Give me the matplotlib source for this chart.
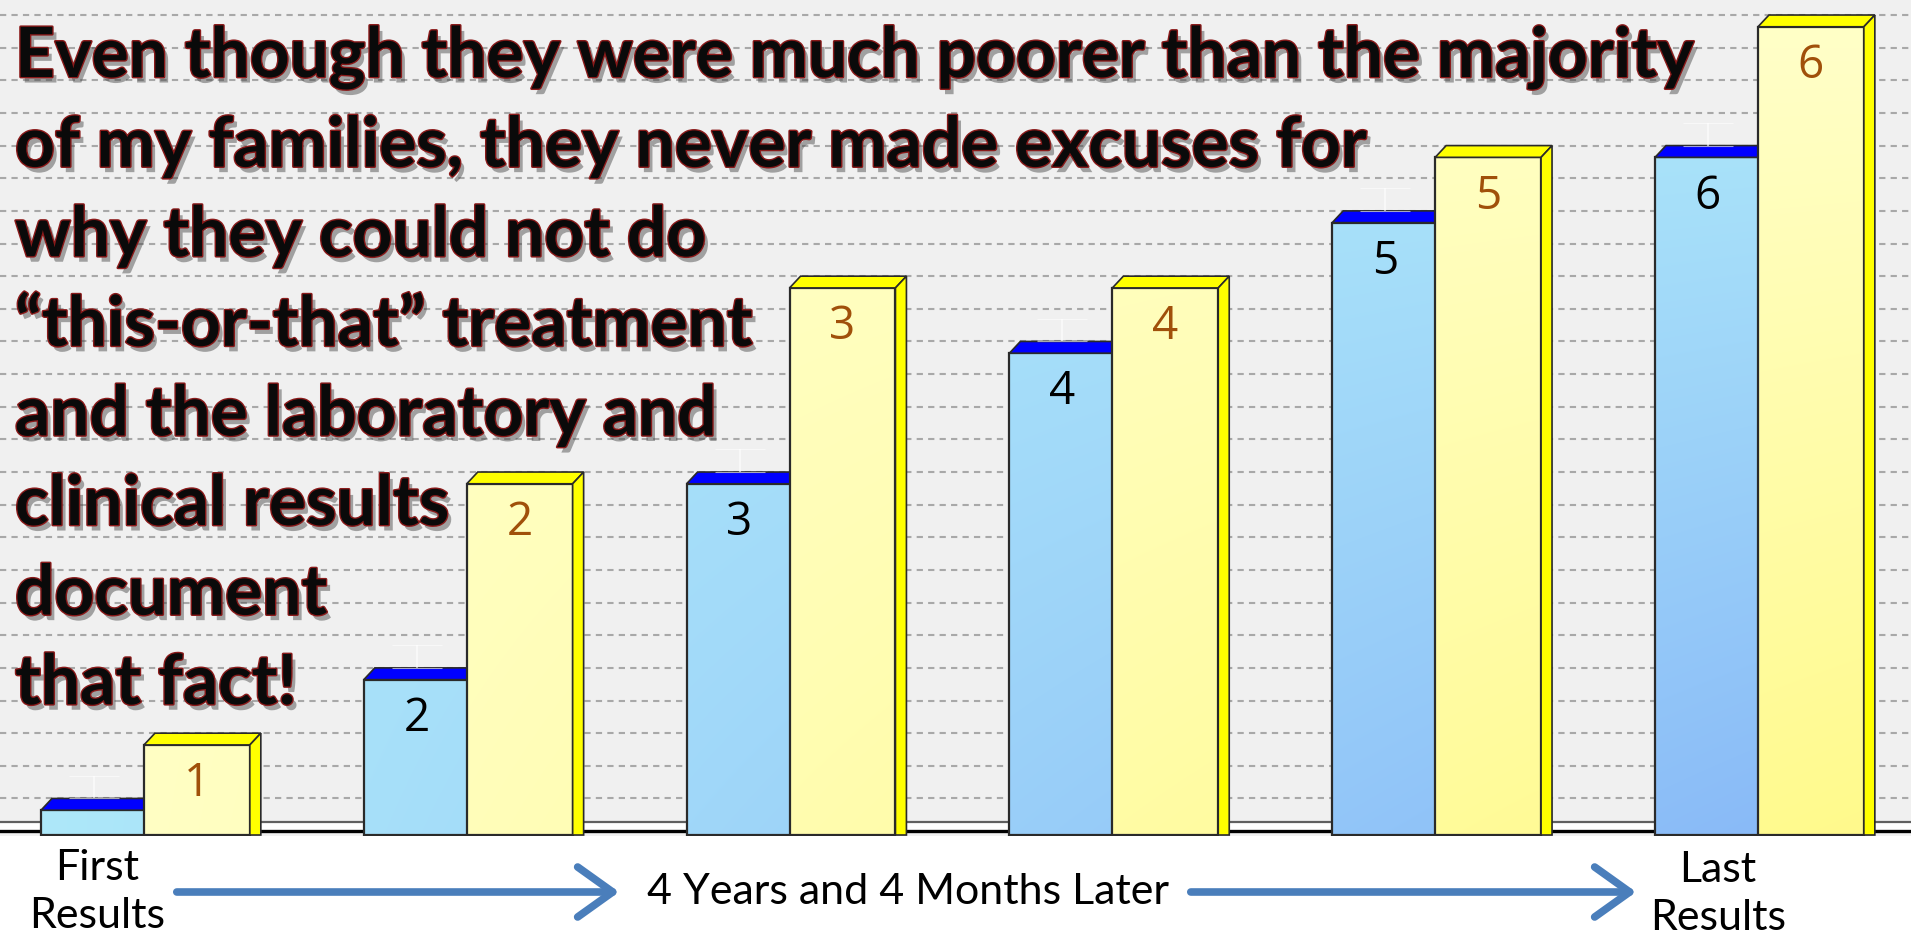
import numpy as np
import matplotlib.pyplot as plt
from matplotlib.patches import Polygon, FancyArrowPatch
import matplotlib.patheffects as pe

# values (one grid step = 1 unit)
groups = ["1", "2", "3", "4", "5", "6"]
first_vals = [1, 5, 11, 15, 19, 21]      # blue series
second_vals = [3, 11, 17, 17, 21, 25]    # yellow series
# the first blue bar is too short to carry its number
first_labels = ["", "2", "3", "4", "5", "6"]
second_labels = ["1", "2", "3", "4", "5", "6"]

message = [
    "Even though they were much poorer than the majority",
    "of my families, they never made excuses for",
    "why they could not do",
    "\u201cthis-or-that\u201d treatment",
    "and the laboratory and",
    "clinical results",
    "document",
    "that fact!",
]
start_label = "First\nResults"
middle_label = "4 Years and 4 Months Later"
end_label = "Last\nResults"

W = 0.328        # bar width
DX = 0.034       # 3d depth, x
DY = 0.36        # 3d depth, y
BASE = -0.12

fig = plt.figure(figsize=(19.11, 9.41), dpi=100)
fig.patch.set_facecolor("white")
ax = fig.add_axes([0, 105 / 941, 1, 836 / 941])
ax.set_facecolor("#F0F0F0")

# back-wall grid
for k in range(1, 26):
    ax.axhline(k, color="#A8A8A8", lw=1.5, ls=(0, (3, 2.5)), zorder=1)

# floor
ax.axhspan(0, 0.28, color="white", zorder=1.5)
ax.axhline(0.28, color="#606060", lw=1.6, zorder=1.6)
ax.axhline(0.0, color="black", lw=2.4, zorder=1.6)

x = np.arange(len(groups))


def gradient_fill(patch, light, dark, z):
    x0, y0 = patch.get_x(), patch.get_y()
    x1, y1 = x0 + patch.get_width(), y0 + patch.get_height()
    xs = np.linspace(x0, x1, 40)
    ys = np.linspace(y1, y0, 200)
    gx, gy = np.meshgrid(xs, ys)
    t = np.clip((gx + 0.3) / 5.6 * (1 - gy / 24), 0, 1)[..., None]
    img = np.array(light)[None, None, :] * (1 - t) + np.array(dark)[None, None, :] * t
    im = ax.imshow(img, extent=(x0, x1, y0, y1), aspect="auto", zorder=z,
                   interpolation="bilinear")
    im.set_clip_path(patch)


def draw_series(lefts, vals, light, dark, cap_col, side, z):
    fronts = [v - DY - BASE for v in vals]
    bars = ax.bar(lefts, fronts, width=W, bottom=BASE, align="edge",
                  facecolor="none", edgecolor="#2A2A2A", lw=1.6, zorder=z + 0.1)
    for b, v in zip(bars, vals):
        gradient_fill(b, light, dark, z)
        l, r, top = b.get_x(), b.get_x() + W, v - DY
        ax.add_patch(Polygon([(l, top), (l + DX, v), (r + DX, v), (r, top)],
                             closed=True, facecolor=cap_col, edgecolor="#2A2A2A",
                             lw=1.2, zorder=z + 0.2))
        if side:
            ax.add_patch(Polygon([(r, top), (r + DX, v), (r + DX, BASE), (r, BASE)],
                                 closed=True, facecolor=cap_col, edgecolor="#2A2A2A",
                                 lw=1.2, zorder=z + 0.2))
    return bars


blue_left = x - 0.319
yellow_left = x.astype(float)

draw_series(blue_left, first_vals, (0.68, 0.91, 0.98), (0.53, 0.72, 0.97), "#0000FF", False, 3)
ax.errorbar(blue_left + W / 2, first_vals, yerr=[[0] * 6, [0.7] * 6], fmt="none",
            ecolor="white", elinewidth=1.5, capsize=18, capthick=0.8, alpha=0.6, zorder=3.3)
draw_series(yellow_left, second_vals, (1.0, 1.0, 0.78), (1.0, 0.98, 0.55), "#FFFF00", True, 4)

for i in range(len(groups)):
    ax.text(blue_left[i] + W / 2, first_vals[i] - DY - 1.2, first_labels[i], ha="center",
            va="center", fontsize=33, color="black", family="Open Sans", zorder=7)
    ax.text(yellow_left[i] + W / 2, second_vals[i] - DY - 1.2, second_labels[i], ha="center",
            va="center", fontsize=33, color="#A0500A", family="Open Sans", zorder=7)

ax.set_xlim(-0.446, 5.474)
ax.set_ylim(-0.15, 25.46)
ax.set_xticks([])
ax.set_yticks([])
for s in ax.spines.values():
    s.set_visible(False)

# overlay in pixel coordinates for the text and arrows
ov = fig.add_axes([0, 0, 1, 1], zorder=10)
ov.set_xlim(0, 1911)
ov.set_ylim(941, 0)
ov.axis("off")

fx = [pe.withSimplePatchShadow(offset=(3, -4), shadow_rgbFace="#404040", alpha=0.45),
      pe.Stroke(linewidth=2.0, foreground="#8A1A1A"), pe.Normal()]
for i, line in enumerate(message):
    ov.text(15, 77 + 89.6 * i, line, ha="left", va="baseline", fontsize=50,
            fontweight="bold", family="Lato", color="#0A0A0A", path_effects=fx)

ov.text(97, 892, start_label, ha="center", va="center", fontsize=31,
        family="Lato", color="black", linespacing=1.35)
ov.text(1718, 894, end_label, ha="center", va="center", fontsize=31,
        family="Lato", color="black", linespacing=1.35)
ov.text(908, 892, middle_label, ha="center", va="center", fontsize=31,
        family="Lato", color="black")

for xa, xb in [(174, 622), (1188, 1639)]:
    ov.add_patch(FancyArrowPatch((xa, 892), (xb, 892),
                                 arrowstyle="->, head_length=0.7, head_width=0.5",
                                 mutation_scale=36, color="#4A7EBB", lw=5.5,
                                 capstyle="round", joinstyle="round"))

fig.savefig("out.png", dpi=100, facecolor="white")
